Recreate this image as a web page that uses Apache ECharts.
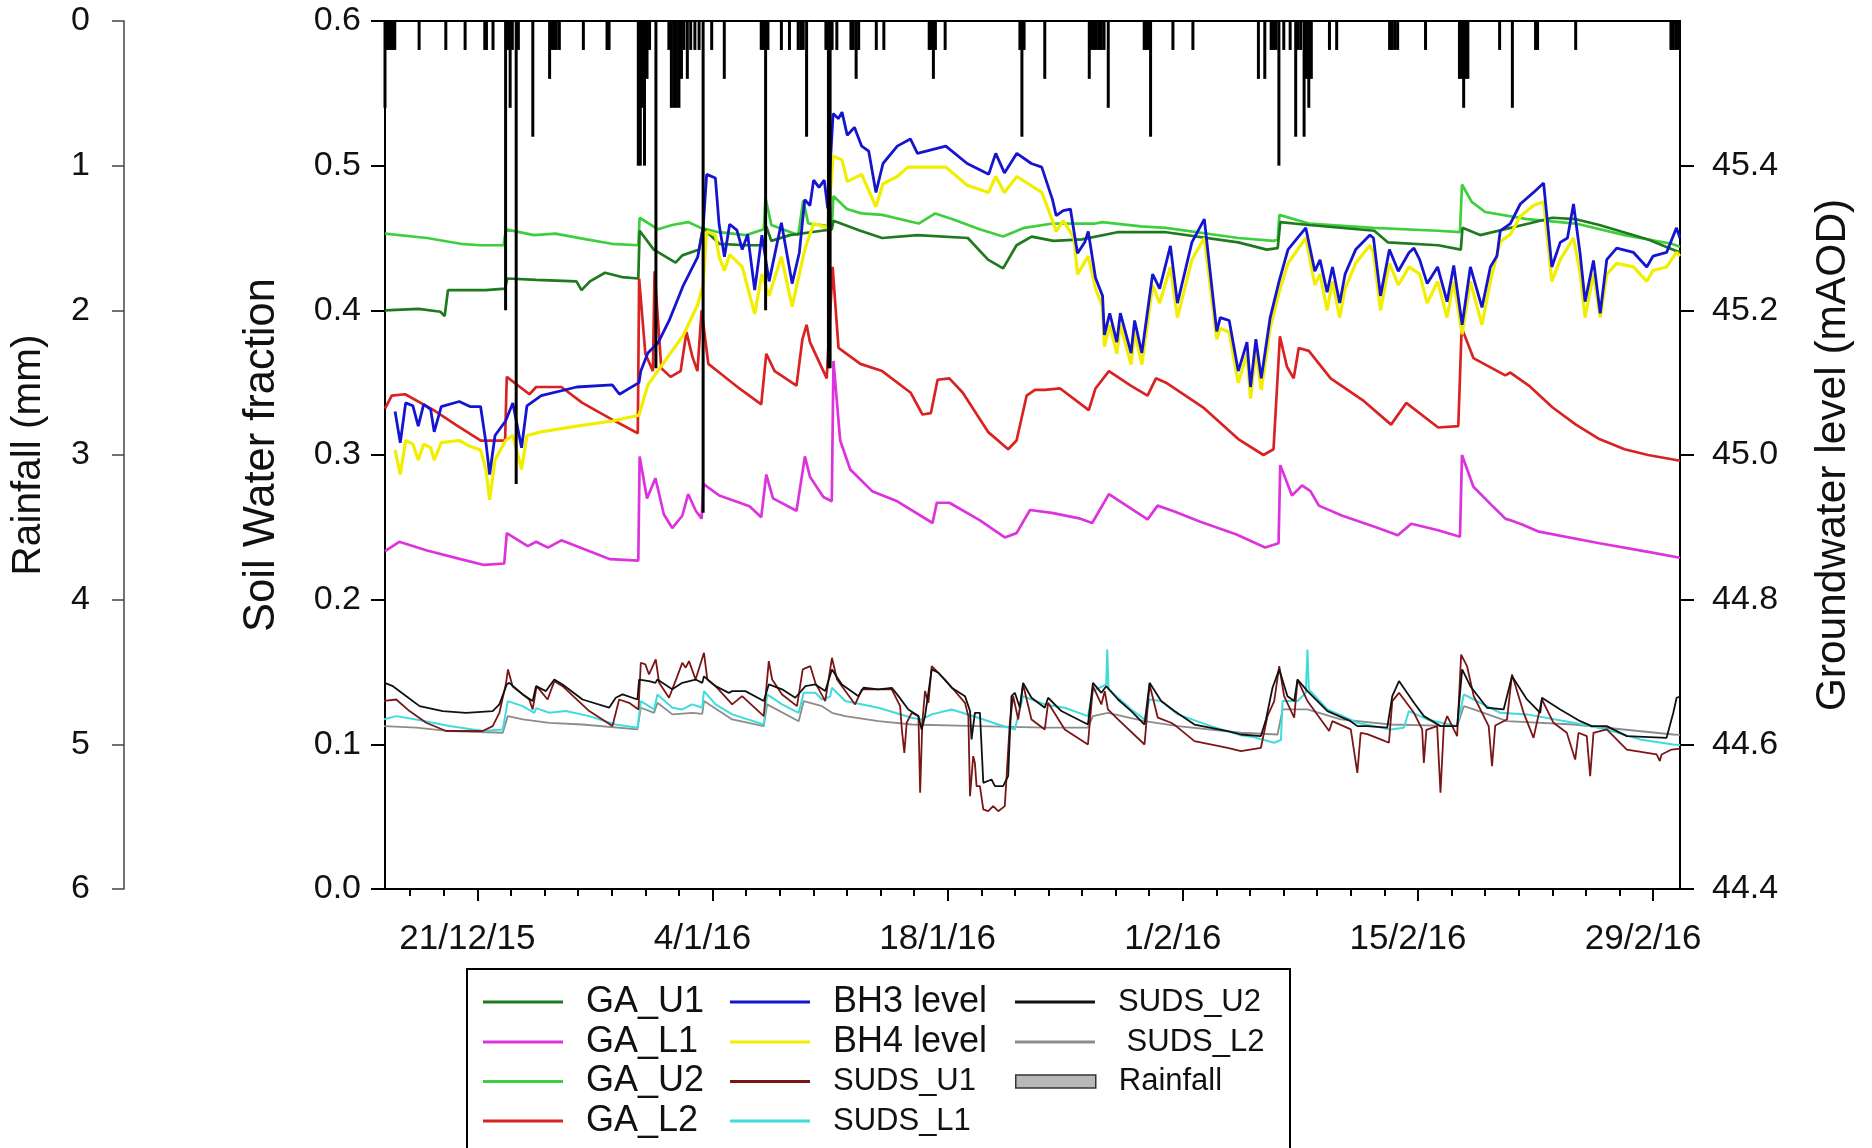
<!DOCTYPE html>
<html><head><meta charset="utf-8">
<script src="https://cdn.jsdelivr.net/npm/echarts@6/dist/echarts.min.js"></script>
<style>html,body{margin:0;padding:0;background:#fff}#c{width:1872px;height:1148px}</style>
</head><body><div id="c"></div>
<script>
// x values are days relative to 21/12/2015
const xTickDays = [0, 14, 28, 42, 56, 70];
const xTickLabels = ['21/12/15', '4/1/16', '18/1/16', '1/2/16', '15/2/16', '29/2/16'];
const xMinorTickDays = [-4,-2,2,4,6,8,10,12,16,18,20,22,24,26,30,32,34,36,38,40,44,46,48,50,52,54,58,60,62,64,66,68];
const soilTicks = [0, 0.1, 0.2, 0.3, 0.4, 0.5, 0.6];
const gwTicks = [44.4, 44.6, 44.8, 45.0, 45.2, 45.4];
const rainTicks = [0, 1, 2, 3, 4, 5, 6];

const rainfall = [
[-5.5,0.6],[-5.38,0.2],[-5.26,0.2],[-5.14,0.2],[-5.02,0.2],[-4.92,0.2],
[-3.47,0.2],[-1.88,0.2],[-0.73,0.2],[0.44,0.2],[0.54,0.2],[0.93,0.2],
[1.68,2.0],[1.83,0.2],[1.95,0.6],[2.08,0.2],[2.31,3.2],[2.44,0.2],[3.3,0.8],
[4.3,0.4],[4.42,0.2],[4.55,0.2],[4.7,0.2],[4.88,0.2],[6.31,0.2],[7.72,0.2],[7.84,0.2],
[9.58,1.0],[9.7,1.0],[9.82,0.6],[9.95,1.0],[10.1,0.4],[10.25,0.2],[10.63,2.4],
[11.4,0.2],[11.55,0.6],[11.7,0.6],[11.85,0.6],[12.0,0.6],[12.15,0.4],[12.3,0.2],[12.5,0.4],[12.7,0.2],[12.95,0.2],[13.2,0.2],[13.44,3.4],
[13.95,0.2],[14.7,0.4],[16.9,0.2],[17.03,0.2],[17.16,2.0],[17.3,0.2],[18.1,0.2],[18.58,0.2],
[19.1,0.2],[19.25,0.2],[19.4,0.2],[19.6,0.8],[20.75,0.2],[20.9,2.4],[21.0,2.4],[21.12,0.2],[21.4,0.2],
[22.24,0.2],[22.38,0.2],[22.55,0.4],[22.7,0.2],[23.75,0.2],[24.2,0.2],
[26.9,0.2],[27.02,0.2],[27.15,0.4],[27.27,0.2],[27.85,0.2],
[32.3,0.2],[32.42,0.8],[32.55,0.2],[33.78,0.4],
[36.43,0.4],[36.56,0.2],[36.7,0.2],[36.85,0.2],[37.0,0.2],[37.15,0.2],[37.31,0.2],[37.56,0.6],
[39.7,0.2],[39.83,0.2],[39.96,0.2],[40.08,0.8],[41.41,0.2],[42.6,0.2],
[46.5,0.4],[46.88,0.4],[47.26,0.2],[47.4,0.2],[47.55,0.2],[47.72,1.0],[48.01,0.2],[48.39,0.2],
[48.72,0.8],[48.86,0.2],[49.02,0.2],[49.22,0.8],[49.36,0.4],[49.5,0.6],[49.65,0.4],
[50.73,0.2],[51.16,0.2],[54.31,0.2],[54.47,0.2],[54.63,0.2],[54.79,0.2],[56.45,0.2],
[58.47,0.4],[58.6,0.4],[58.72,0.6],[58.85,0.4],[58.97,0.4],
[60.86,0.2],[61.62,0.6],[63.0,0.2],[63.12,0.2],[65.39,0.2],
[71.06,0.2],[71.2,0.2],[71.35,0.2],[71.5,0.2]
];

const gaU1 = [[-5.5,0.400],[-3.5,0.401],[-2.2,0.399],[-1.95,0.396],[-1.75,0.414],[0.5,0.414],[1.65,0.415],[1.78,0.422],[3.5,0.421],[5.9,0.42],[6.2,0.414],[6.7,0.42],[7.6,0.426],[8.6,0.423],[9.58,0.422],[9.66,0.455],[10.5,0.442],[11.8,0.433],[12.2,0.438],[13.2,0.442],[13.42,0.457],[14.4,0.446],[16.0,0.445],[17.1,0.445],[17.2,0.458],[17.5,0.448],[18.6,0.452],[20.5,0.455],[21.1,0.456],[21.2,0.462],[22.8,0.455],[24.1,0.45],[26.2,0.452],[29.2,0.45],[30.4,0.435],[31.3,0.429],[32.1,0.445],[33.0,0.451],[34.3,0.448],[36.0,0.449],[38.1,0.454],[41.0,0.454],[45.3,0.447],[47.0,0.442],[47.65,0.443],[47.8,0.461],[49.5,0.459],[53.4,0.455],[54.2,0.447],[57.2,0.445],[58.55,0.442],[58.65,0.457],[59.7,0.452],[62.6,0.46],[64.0,0.464],[65.4,0.463],[66.8,0.459],[69.7,0.449],[71.6,0.44]];

const gaL1 = [[-5.5,0.2335],[-4.65,0.240],[-3.0,0.234],[-1.0,0.228],[0.4,0.224],[1.6,0.225],[1.75,0.246],[3.0,0.237],[3.5,0.240],[4.2,0.236],[5.0,0.241],[7.9,0.228],[9.58,0.227],[9.66,0.299],[10.1,0.27],[10.6,0.284],[11.1,0.259],[11.6,0.2495],[12.2,0.258],[12.55,0.273],[13.0,0.2615],[13.35,0.256],[13.45,0.28],[14.4,0.272],[16.2,0.2646],[16.9,0.257],[17.2,0.2865],[17.6,0.27],[19.0,0.2615],[19.5,0.299],[19.8,0.285],[20.6,0.271],[21.1,0.268],[21.2,0.365],[21.6,0.31],[22.2,0.29],[23.5,0.275],[25.0,0.268],[27.1,0.253],[27.35,0.267],[28.1,0.267],[29.9,0.255],[31.4,0.243],[32.1,0.246],[32.9,0.262],[34.2,0.26],[35.9,0.256],[36.6,0.253],[37.6,0.273],[39.9,0.2555],[40.5,0.265],[41.5,0.261],[43.0,0.254],[45.2,0.245],[46.9,0.236],[47.7,0.239],[47.8,0.293],[48.5,0.272],[49.1,0.279],[49.6,0.275],[50.1,0.265],[51.5,0.258],[53.5,0.25],[54.8,0.2445],[55.6,0.2525],[57.2,0.248],[58.5,0.2435],[58.62,0.3],[59.3,0.278],[60.5,0.264],[61.2,0.256],[61.6,0.2545],[62.2,0.252],[63.2,0.247],[66.8,0.239],[69.7,0.233],[71.6,0.229]];

const gaU2 = [[-5.5,0.453],[-3.0,0.45],[-1.0,0.446],[0.17,0.445],[1.56,0.445],[1.7,0.456],[3.37,0.452],[4.64,0.453],[6.5,0.449],[8.0,0.446],[9.58,0.445],[9.66,0.464],[10.76,0.456],[11.59,0.459],[12.55,0.461],[13.3,0.457],[14.36,0.454],[16.0,0.452],[17.05,0.456],[17.15,0.478],[17.5,0.459],[19.1,0.452],[19.4,0.476],[19.7,0.46],[21.1,0.458],[21.2,0.479],[22.0,0.47],[22.87,0.467],[24.1,0.466],[26.27,0.46],[27.26,0.467],[28.3,0.463],[29.9,0.456],[31.3,0.451],[32.56,0.457],[34.25,0.46],[36.8,0.46],[37.2,0.461],[39.5,0.458],[41.0,0.457],[45.3,0.45],[47.4,0.448],[47.65,0.449],[47.75,0.466],[49.5,0.46],[53.35,0.457],[57.17,0.455],[58.5,0.454],[58.62,0.487],[59.2,0.475],[60.0,0.468],[62.5,0.463],[65.4,0.46],[68.3,0.452],[71.1,0.446],[71.6,0.444]];

const gaL2 = [[-5.5,0.332],[-5.1,0.341],[-4.3,0.342],[-2.6,0.331],[-1.3,0.321],[0.2,0.31],[1.65,0.31],[1.75,0.354],[3.1,0.342],[3.5,0.347],[5.0,0.347],[6.25,0.336],[7.95,0.325],[9.55,0.315],[9.63,0.422],[10.0,0.37],[10.45,0.358],[10.55,0.427],[10.95,0.36],[11.5,0.354],[12.1,0.358],[12.45,0.385],[12.8,0.368],[13.1,0.358],[13.35,0.4],[13.75,0.363],[14.4,0.357],[15.6,0.346],[16.9,0.335],[17.2,0.37],[17.7,0.358],[19.0,0.348],[19.35,0.38],[19.6,0.39],[19.8,0.378],[20.8,0.353],[21.15,0.43],[21.5,0.374],[22.8,0.363],[24.1,0.358],[25.8,0.343],[26.5,0.328],[27.0,0.329],[27.4,0.352],[28.1,0.353],[28.9,0.343],[30.4,0.316],[31.6,0.304],[32.1,0.31],[32.7,0.341],[33.2,0.345],[33.8,0.345],[34.7,0.346],[36.4,0.331],[36.8,0.346],[37.6,0.358],[38.9,0.348],[39.9,0.341],[40.4,0.353],[41.0,0.35],[43.2,0.333],[45.3,0.311],[46.8,0.3],[47.4,0.304],[47.78,0.382],[48.2,0.361],[48.6,0.353],[48.9,0.374],[49.5,0.372],[50.8,0.353],[52.7,0.338],[54.4,0.321],[55.3,0.336],[57.2,0.319],[58.4,0.32],[58.6,0.388],[59.3,0.367],[61.2,0.355],[61.5,0.357],[62.6,0.348],[64.0,0.333],[65.4,0.321],[66.8,0.311],[68.3,0.304],[69.7,0.3],[71.6,0.296]];

const bh3 = [[-4.9,45.06],[-4.59,45.017],[-4.27,45.072],[-3.84,45.068],[-3.52,45.04],[-3.2,45.07],[-2.78,45.063],[-2.57,45.032],[-2.15,45.067],[-1.08,45.074],[-0.44,45.067],[0.19,45.067],[0.51,45.017],[0.73,44.973],[1.05,45.027],[1.68,45.047],[2.11,45.072],[2.63,45.01],[2.95,45.068],[3.8,45.082],[5.92,45.094],[8.03,45.097],[8.46,45.084],[9.62,45.1],[9.73,45.116],[10.15,45.141],[10.78,45.156],[11.42,45.186],[12.27,45.235],[13.12,45.274],[13.44,45.314],[13.65,45.388],[14.17,45.383],[14.39,45.319],[14.71,45.274],[15.02,45.319],[15.45,45.311],[15.77,45.284],[16.09,45.305],[16.51,45.228],[16.94,45.304],[17.37,45.24],[18.1,45.321],[18.74,45.237],[19.17,45.28],[19.49,45.353],[19.8,45.345],[20.02,45.38],[20.34,45.37],[20.65,45.38],[20.86,45.341],[21.18,45.472],[21.5,45.465],[21.71,45.474],[22.02,45.442],[22.45,45.453],[22.88,45.427],[23.3,45.42],[23.73,45.363],[24.15,45.403],[25.0,45.427],[25.78,45.437],[26.2,45.417],[27.89,45.427],[29.16,45.403],[30.44,45.388],[30.86,45.417],[31.38,45.39],[32.12,45.417],[32.98,45.403],[33.6,45.398],[34.24,45.353],[34.46,45.331],[34.88,45.338],[35.31,45.34],[35.52,45.309],[35.73,45.279],[36.16,45.294],[36.37,45.309],[36.8,45.245],[37.22,45.22],[37.33,45.166],[37.65,45.196],[38.07,45.156],[38.28,45.196],[38.92,45.141],[39.13,45.186],[39.56,45.141],[40.2,45.25],[40.62,45.23],[41.26,45.289],[41.68,45.21],[42.54,45.294],[43.28,45.326],[44.02,45.171],[44.23,45.19],[44.76,45.186],[45.3,45.116],[45.82,45.156],[46.03,45.094],[46.35,45.16],[46.67,45.106],[47.2,45.19],[47.73,45.24],[48.26,45.284],[49.32,45.314],[49.86,45.254],[50.17,45.27],[50.59,45.225],[50.91,45.26],[51.34,45.21],[51.66,45.25],[52.29,45.284],[53.14,45.304],[53.35,45.3],[53.77,45.22],[54.3,45.284],[54.83,45.254],[55.47,45.28],[55.76,45.286],[56.1,45.27],[56.55,45.237],[57.17,45.26],[57.73,45.212],[58.13,45.262],[58.63,45.18],[59.12,45.26],[59.81,45.204],[60.31,45.26],[60.7,45.275],[60.9,45.31],[61.5,45.32],[62.09,45.347],[62.88,45.363],[63.48,45.376],[63.97,45.26],[64.47,45.294],[64.9,45.3],[65.26,45.347],[65.66,45.277],[65.95,45.212],[66.45,45.269],[66.85,45.196],[67.24,45.27],[67.83,45.286],[68.83,45.28],[69.62,45.26],[70.0,45.275],[70.8,45.28],[71.39,45.314],[71.6,45.3]];

const bh4 = [[-4.9,45.007],[-4.59,44.973],[-4.27,45.02],[-3.84,45.015],[-3.52,44.993],[-3.2,45.015],[-2.78,45.01],[-2.57,44.993],[-2.15,45.017],[-1.08,45.02],[-0.44,45.012],[0.19,45.007],[0.51,44.98],[0.73,44.938],[1.05,44.993],[1.68,45.02],[2.11,45.027],[2.63,44.98],[2.95,45.027],[3.8,45.032],[5.92,45.04],[8.03,45.047],[9.62,45.055],[10.15,45.097],[11.2,45.131],[12.27,45.166],[13.12,45.208],[13.44,45.235],[13.65,45.309],[14.17,45.304],[14.39,45.274],[14.71,45.255],[15.02,45.277],[15.77,45.26],[16.51,45.195],[16.94,45.25],[17.37,45.22],[18.1,45.274],[18.74,45.205],[19.49,45.284],[20.02,45.32],[20.86,45.314],[21.18,45.413],[21.71,45.408],[22.02,45.378],[22.88,45.388],[23.73,45.343],[24.15,45.375],[25.0,45.385],[25.63,45.398],[27.89,45.398],[29.16,45.373],[30.44,45.363],[30.86,45.385],[31.38,45.363],[32.12,45.385],[33.6,45.363],[34.24,45.324],[34.46,45.309],[34.88,45.324],[35.52,45.3],[35.73,45.25],[36.37,45.275],[36.8,45.23],[37.22,45.205],[37.33,45.15],[37.65,45.18],[38.07,45.14],[38.28,45.18],[38.92,45.125],[39.13,45.17],[39.56,45.125],[40.2,45.235],[40.62,45.21],[41.26,45.26],[41.68,45.19],[42.54,45.27],[43.28,45.3],[44.02,45.16],[44.23,45.175],[44.76,45.17],[45.3,45.1],[45.82,45.14],[46.03,45.078],[46.35,45.145],[46.67,45.09],[47.2,45.175],[47.73,45.225],[48.26,45.265],[49.32,45.3],[49.86,45.235],[50.17,45.25],[50.59,45.2],[50.91,45.24],[51.34,45.19],[51.66,45.23],[52.29,45.265],[53.14,45.29],[53.35,45.28],[53.77,45.2],[54.3,45.265],[54.83,45.235],[55.47,45.26],[56.1,45.25],[56.55,45.21],[57.17,45.24],[57.73,45.19],[58.13,45.24],[58.63,45.167],[59.12,45.24],[59.81,45.18],[60.31,45.24],[60.9,45.295],[61.5,45.305],[62.09,45.33],[62.88,45.345],[63.48,45.35],[63.97,45.24],[64.47,45.27],[65.26,45.3],[65.66,45.25],[65.95,45.19],[66.45,45.25],[66.85,45.19],[67.24,45.25],[67.83,45.265],[68.83,45.26],[69.62,45.24],[70.0,45.255],[70.8,45.26],[71.39,45.28],[71.6,45.275]];

const sudsU1 = [[-5.62,0.1299],[-4.83,0.131],[-4.04,0.123],[-3.05,0.1149],[-1.86,0.1092],[0.32,0.1092],[0.91,0.1126],[1.31,0.1218],[1.71,0.1425],[1.82,0.1518],[2.1,0.14],[3.09,0.131],[3.29,0.1241],[3.53,0.1402],[4.18,0.131],[4.58,0.1437],[5.07,0.1402],[6.66,0.123],[8.04,0.1126],[8.44,0.131],[9.03,0.1287],[9.59,0.1241],[9.73,0.1564],[10.0,0.1553],[10.22,0.1483],[10.62,0.1587],[10.82,0.1425],[11.41,0.1322],[11.9,0.147],[12.2,0.1564],[12.4,0.153],[12.6,0.1575],[12.99,0.1448],[13.49,0.1633],[13.69,0.1448],[14.18,0.1402],[15.17,0.1276],[15.76,0.1333],[17.05,0.1195],[17.35,0.1575],[17.55,0.1448],[18.14,0.1345],[19.03,0.1264],[19.37,0.1518],[19.82,0.1541],[20.12,0.1425],[20.71,0.1299],[21.11,0.1598],[21.41,0.1448],[22.49,0.1276],[22.89,0.138],[23.88,0.138],[24.67,0.138],[25.17,0.1264],[25.27,0.1103],[25.42,0.0941],[25.56,0.1149],[25.86,0.1218],[26.26,0.1195],[26.36,0.0665],[26.49,0.1149],[26.65,0.1368],[26.85,0.1287],[27.05,0.1541],[27.84,0.1448],[29.03,0.1287],[29.23,0.1195],[29.33,0.0642],[29.52,0.0918],[29.62,0.0872],[29.72,0.0711],[29.92,0.0711],[30.12,0.055],[30.41,0.0538],[30.71,0.0573],[31.01,0.0538],[31.4,0.0573],[31.7,0.1149],[31.9,0.1333],[32.2,0.1172],[32.49,0.1414],[32.99,0.1172],[33.78,0.1103],[33.98,0.1287],[34.97,0.1103],[36.35,0.0999],[36.65,0.1402],[37.15,0.1276],[37.35,0.1368],[37.54,0.1241],[38.14,0.1172],[39.72,0.0999],[40.02,0.1414],[40.51,0.1184],[41.3,0.1149],[41.6,0.1126],[42.69,0.1022],[44.67,0.0976],[45.46,0.0953],[46.65,0.0976],[47.04,0.1195],[47.44,0.1299],[47.74,0.1541],[48.03,0.1333],[48.63,0.1184],[48.83,0.1448],[49.42,0.1299],[50.71,0.1092],[50.9,0.116],[52.0,0.1103],[52.39,0.0803],[52.59,0.108],[52.98,0.107],[53.78,0.1034],[54.27,0.1011],[54.47,0.1299],[54.87,0.1356],[55.76,0.1218],[56.25,0.1103],[56.35,0.0872],[56.5,0.11],[57.14,0.1126],[57.34,0.0665],[57.54,0.113],[57.74,0.1195],[58.33,0.1057],[58.57,0.162],[58.92,0.1541],[59.32,0.1333],[60.21,0.1126],[60.41,0.0849],[60.6,0.113],[61.3,0.1172],[61.6,0.1483],[62.29,0.1218],[62.88,0.1045],[63.38,0.131],[64.07,0.1149],[64.86,0.108],[65.36,0.0895],[65.56,0.108],[66.05,0.1057],[66.25,0.078],[66.45,0.108],[67.24,0.1103],[68.43,0.0964],[70.21,0.093],[70.4,0.0884],[70.5,0.093],[71.1,0.0964],[71.6,0.097]];

const sudsL1 = [[-5.62,0.1172],[-4.83,0.1195],[-3.64,0.1172],[-1.66,0.1126],[0.32,0.1092],[1.51,0.1103],[1.81,0.1299],[2.7,0.1264],[3.39,0.1218],[3.5,0.125],[4.28,0.1218],[5.27,0.123],[6.66,0.1195],[8.24,0.1137],[9.53,0.1115],[9.73,0.1299],[10.52,0.1241],[10.72,0.1345],[11.61,0.1253],[12.2,0.1241],[12.79,0.1276],[13.39,0.1253],[13.49,0.1368],[14.18,0.1276],[15.17,0.1207],[17.05,0.1137],[17.25,0.1345],[18.14,0.1276],[19.13,0.1218],[19.43,0.1356],[20.12,0.1356],[20.52,0.131],[21.0,0.133],[21.11,0.1391],[21.9,0.1299],[23.88,0.1253],[25.86,0.1184],[26.45,0.1172],[27.05,0.1207],[28.24,0.1241],[29.82,0.1184],[31.01,0.1137],[32.0,0.1103],[32.49,0.1333],[32.99,0.131],[33.78,0.1276],[34.97,0.1253],[36.35,0.1195],[36.65,0.1368],[37.44,0.1414],[37.5,0.1656],[37.58,0.138],[38.93,0.1241],[39.72,0.1172],[40.02,0.131],[40.71,0.1299],[41.7,0.1207],[43.68,0.1126],[45.46,0.1062],[46.2,0.105],[47.44,0.1011],[47.84,0.103],[47.94,0.1299],[48.83,0.1299],[49.32,0.1356],[49.42,0.1656],[49.5,0.138],[50.61,0.1241],[52.39,0.1149],[54.37,0.1103],[55.16,0.1115],[55.46,0.123],[56.55,0.1172],[58.33,0.1126],[58.73,0.1345],[59.32,0.131],[60.9,0.1218],[62.49,0.1207],[65.26,0.1149],[67.24,0.1103],[69.22,0.1034],[71.2,0.0999],[71.6,0.0995]];

const sudsU2 = [[-5.52,0.1425],[-5.03,0.1402],[-4.23,0.1333],[-3.44,0.1264],[-2.06,0.123],[-0.67,0.1218],[0.91,0.123],[1.31,0.1276],[1.75,0.1414],[1.9,0.1425],[2.7,0.1345],[3.29,0.1299],[3.49,0.1402],[4.08,0.1368],[4.58,0.1448],[5.07,0.1414],[6.26,0.131],[7.84,0.1253],[8.24,0.1322],[8.64,0.1345],[9.53,0.131],[9.63,0.1448],[10.22,0.1437],[10.6,0.1425],[10.72,0.1448],[11.6,0.138],[12.2,0.1425],[12.99,0.1448],[13.39,0.1425],[13.49,0.147],[14.18,0.1402],[14.97,0.1356],[15.17,0.1368],[15.96,0.1368],[17.05,0.1299],[17.35,0.1414],[18.14,0.138],[18.93,0.1322],[19.53,0.1402],[20.12,0.1414],[20.71,0.1368],[21.11,0.1518],[21.7,0.1414],[22.69,0.1333],[22.99,0.1391],[23.88,0.138],[24.67,0.1391],[25.07,0.1333],[25.66,0.1241],[26.26,0.1195],[26.45,0.1103],[26.65,0.1195],[27.05,0.1518],[27.45,0.1495],[28.24,0.1391],[29.03,0.1333],[29.33,0.123],[29.42,0.1034],[29.62,0.1218],[29.92,0.1218],[30.12,0.0734],[30.61,0.0757],[30.81,0.0711],[31.3,0.0711],[31.6,0.078],[31.8,0.1333],[32.0,0.1356],[32.3,0.1253],[32.49,0.1425],[32.99,0.1322],[33.78,0.1253],[33.98,0.1322],[34.77,0.123],[36.35,0.1137],[36.65,0.1425],[37.15,0.1356],[37.44,0.1402],[38.14,0.131],[38.93,0.123],[39.72,0.1137],[40.02,0.1425],[40.71,0.1299],[41.5,0.123],[42.69,0.1137],[44.67,0.1092],[45.46,0.1068],[46.65,0.1057],[46.95,0.1172],[47.34,0.1391],[47.74,0.1518],[48.23,0.1333],[48.63,0.13],[48.83,0.1448],[49.42,0.1368],[50.61,0.123],[51.99,0.116],[52.39,0.1126],[52.98,0.1126],[54.17,0.1115],[54.47,0.1333],[54.87,0.1437],[55.76,0.1287],[56.35,0.1195],[57.34,0.1126],[58.33,0.1126],[58.63,0.1518],[59.12,0.1402],[60.11,0.1253],[61.1,0.1241],[61.6,0.147],[62.49,0.131],[63.28,0.1218],[63.38,0.1322],[64.47,0.1241],[65.66,0.116],[66.35,0.1126],[67.24,0.1126],[68.43,0.1057],[70.8,0.1045],[71.2,0.1218],[71.4,0.1322],[71.6,0.133]];

const sudsL2 = [[-5.62,0.1126],[-3.64,0.1115],[-1.66,0.1092],[1.51,0.108],[1.81,0.1195],[2.7,0.1172],[4.28,0.1149],[6.26,0.1137],[9.53,0.1103],[9.73,0.1253],[10.52,0.1218],[10.72,0.1287],[11.61,0.1207],[12.79,0.1218],[13.39,0.121],[13.49,0.1299],[15.17,0.1172],[17.05,0.1126],[17.25,0.1276],[19.13,0.116],[19.43,0.1299],[20.52,0.1264],[21.11,0.1218],[21.9,0.1195],[23.88,0.116],[25.86,0.1137],[29.82,0.1126],[33.78,0.1115],[36.35,0.1115],[36.65,0.1195],[37.54,0.1218],[39.72,0.116],[41.7,0.1126],[45.46,0.108],[47.64,0.1068],[47.94,0.1241],[49.42,0.1241],[51.4,0.1172],[54.37,0.1137],[58.33,0.1126],[58.73,0.1264],[59.32,0.1241],[61.3,0.116],[65.26,0.1137],[71.2,0.1068],[71.6,0.1066]];

const COLORS = {
  GA_U1:'#1f7a1f', GA_L1:'#dd33dd', GA_U2:'#3ecf3e', GA_L2:'#d92222',
  BH3:'#1515d0', BH4:'#f2ee00', SUDS_U1:'#7a1616', SUDS_L1:'#3fdcdc',
  SUDS_U2:'#111111', SUDS_L2:'#8c8c8c'
};

const chart = echarts.init(document.getElementById('c'), null, {renderer:'canvas'});
const font = 'Liberation Sans';
const lineIcon = 'path://M0,0 M98,15 M0,6 H80 V9 H0 Z';
const rainIcon = 'path://M0,0 M98,15 M0,1 H80 V14 H0 Z';

function lineSeries(name, data, color, width, yIdx, z) {
  return {name, type:'line', data, xAxisIndex:0, yAxisIndex:yIdx, symbol:'none', showSymbol:false,
    lineStyle:{color, width}, itemStyle:{color}, z, silent:true, animation:false};
}

// legend layout: [name, column left, row centre, font size, display text]
const legendLayout = [
  ['GA_U1', 483, 1002, 36, 'GA_U1'], ['GA_L1', 483, 1042, 36, 'GA_L1'],
  ['GA_U2', 483, 1081.5, 36, 'GA_U2'], ['GA_L2', 483, 1121, 36, 'GA_L2'],
  ['BH3 level', 730, 1002, 36, 'BH3 level'], ['BH4 level', 730, 1042, 36, 'BH4 level'],
  ['SUDS_U1', 730, 1081.5, 31, 'SUDS_U1'], ['SUDS_L1', 730, 1121, 31, 'SUDS_L1'],
  ['SUDS_U2', 1015, 1002, 31, 'SUDS_U2'], ['SUDS_L2', 1015, 1042, 31, ' SUDS_L2'],
  ['Rainfall', 1015, 1081.5, 31, 'Rainfall']
];
const legends = legendLayout.map(([name, left, cy, fs, label]) => ({
  left, top: cy - fs / 2, orient:'vertical', itemWidth:98, itemHeight:15, padding:0, selectedMode:false,
  itemStyle:{borderWidth:0},
  textStyle:{fontFamily:font, fontSize:fs, color:'#111'},
  formatter:() => label,
  data:[name === 'Rainfall'
    ? {name, icon:rainIcon, itemStyle:{color:'#b8b8b8', borderColor:'#333', borderWidth:1.5}}
    : {name, icon:lineIcon}]
}));

chart.setOption({
  backgroundColor:'#fff',
  animation:false,
  grid:{left:382, right:192, top:21, bottom:259, show:true, borderColor:'#000', borderWidth:2, backgroundColor:'transparent'},
  xAxis:[
    {type:'value', min:-5.5, max:71.6, position:'bottom',
     axisLine:{onZero:false, lineStyle:{color:'#000', width:2}},
     axisTick:{customValues:xTickDays, length:12, lineStyle:{color:'#000', width:2}},
     axisLabel:{customValues:xTickDays, margin:33, padding:[0,20,0,0], fontFamily:font, fontSize:35, color:'#111',
       formatter:v => xTickLabels[xTickDays.indexOf(Math.round(v))] || ''},
     splitLine:{show:false}},
    {type:'value', min:-5.5, max:71.6, position:'bottom',
     axisLine:{show:false, onZero:false},
     axisTick:{customValues:xMinorTickDays, length:7, lineStyle:{color:'#000', width:2}},
     axisLabel:{show:false}, splitLine:{show:false}}
  ],
  yAxis:[
    {type:'value', min:0, max:0.6, position:'left',
     axisLine:{show:true, onZero:false, lineStyle:{color:'#000', width:2}},
     axisTick:{show:true, customValues:soilTicks, length:14, lineStyle:{color:'#000', width:2}},
     axisLabel:{customValues:soilTicks, margin:24, fontFamily:font, fontSize:34, color:'#111', formatter:v => v.toFixed(1)},
     splitLine:{show:false},
     name:'Soil Water fraction', nameLocation:'middle', nameRotate:90, nameGap:101,
     nameTextStyle:{fontFamily:font, fontSize:43.5, color:'#111'}},
    {type:'value', min:44.4, max:45.6, position:'right',
     axisLine:{show:true, onZero:false, lineStyle:{color:'#000', width:2}},
     axisTick:{show:true, customValues:gwTicks, length:14, lineStyle:{color:'#000', width:2}},
     axisLabel:{customValues:gwTicks, margin:32, fontFamily:font, fontSize:34, color:'#111', formatter:v => v.toFixed(1)},
     splitLine:{show:false},
     name:'Groundwater level (mAOD)', nameLocation:'middle', nameRotate:90, nameGap:132,
     nameTextStyle:{fontFamily:font, fontSize:42.5, color:'#111'}},
    {type:'value', min:0, max:6, inverse:true, position:'left', offset:261,
     axisLine:{show:true, onZero:false, lineStyle:{color:'#444', width:1.5}},
     axisTick:{show:true, customValues:rainTicks, length:12, lineStyle:{color:'#444', width:1.5}},
     axisLabel:{customValues:rainTicks, margin:34, fontFamily:font, fontSize:34, color:'#111'},
     splitLine:{show:false},
     name:'Rainfall (mm)', nameLocation:'middle', nameRotate:90, nameGap:75,
     nameTextStyle:{fontFamily:font, fontSize:40.5, color:'#111'}}
  ],
  legend: legends,
  graphic:[{type:'rect', left:466, top:968, z:-1, shape:{width:823, height:200},
    style:{fill:'#fff', stroke:'#000', lineWidth:2}}],
  series:[
    lineSeries('GA_U2', gaU2, COLORS.GA_U2, 2.7, 0, 2),
    lineSeries('GA_U1', gaU1, COLORS.GA_U1, 2.7, 0, 2),
    lineSeries('GA_L1', gaL1, COLORS.GA_L1, 2.7, 0, 2),
    lineSeries('GA_L2', gaL2, COLORS.GA_L2, 2.7, 0, 2),
    lineSeries('BH4 level', bh4, COLORS.BH4, 3.2, 1, 2),
    lineSeries('BH3 level', bh3, COLORS.BH3, 2.8, 1, 2),
    lineSeries('SUDS_L2', sudsL2, COLORS.SUDS_L2, 1.8, 0, 2),
    lineSeries('SUDS_L1', sudsL1, COLORS.SUDS_L1, 2.0, 0, 2),
    lineSeries('SUDS_U1', sudsU1, COLORS.SUDS_U1, 1.8, 0, 2),
    lineSeries('SUDS_U2', sudsU2, COLORS.SUDS_U2, 1.8, 0, 2),
    {name:'Rainfall', type:'bar', data:rainfall, xAxisIndex:0, yAxisIndex:2, barWidth:3,
     itemStyle:{color:'#000'}, z:3, silent:true, animation:false}
  ]
});
</script></body></html>
